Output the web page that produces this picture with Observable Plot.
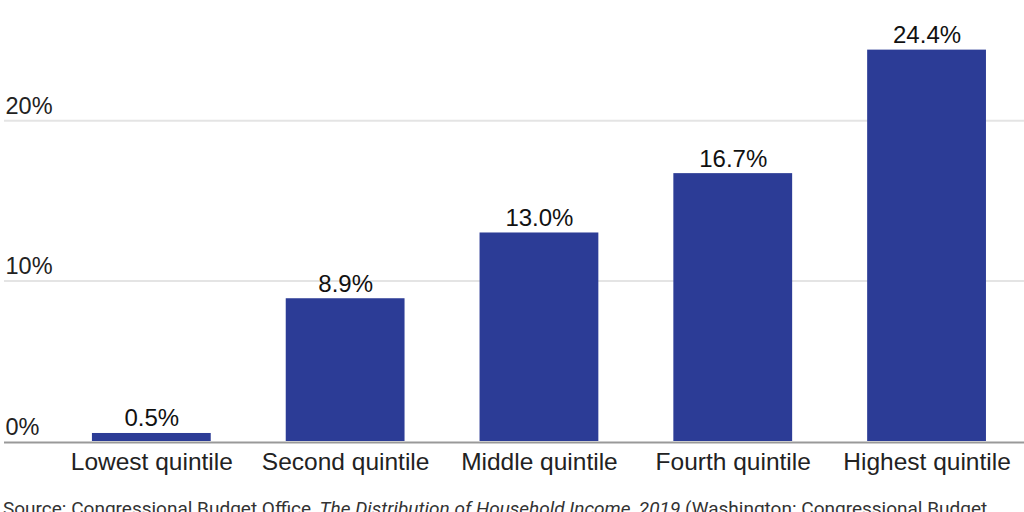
<!DOCTYPE html>
<html>
<head>
<meta charset="utf-8">
<script src="https://cdn.jsdelivr.net/npm/d3@7"></script>
<script src="https://cdn.jsdelivr.net/npm/@observablehq/plot@0.6"></script>
<style>
  html, body { margin: 0; padding: 0; background: #fff; overflow: hidden; }
  #chart svg { display: block; }
  #caption { font-family: Roboto, "Liberation Sans", sans-serif; font-size: 19px; color: #333; width: 1015px; margin: 8px 0 0 3px; line-height: 22px; }
</style>
</head>
<body>
<div id="chart"></div>
<div id="caption">Source: Congressional Budget Office, <i>The Distribution of Household Income, 2019</i> (Washington: Congressional Budget Office, 2022).</div>
<script>
const categories = ["Lowest quintile", "Second quintile", "Middle quintile", "Fourth quintile", "Highest quintile"];
const values = [0.5, 8.9, 13.0, 16.7, 24.4];
const valueLabels = ["0.5%", "8.9%", "13.0%", "16.7%", "24.4%"];
const yTicks = [0, 10, 20];
const yTickLabels = ["0%", "10%", "20%"];

const data = categories.map((c, i) => ({category: c, value: values[i], label: valueLabels[i]}));
const ticks = yTicks.map((t, i) => ({t, label: yTickLabels[i]}));

const chart = Plot.plot({
  width: 1024,
  height: 490,
  marginLeft: 4,
  marginRight: 0,
  marginTop: 40,
  marginBottom: 49,
  style: {fontFamily: "'Liberation Sans', Arial, sans-serif", color: "#222", background: "#fff"},
  x: {domain: categories, paddingInner: 0.387, paddingOuter: 0.325, align: 0.698, round: false, label: null},
  y: {domain: [0, 25], axis: null},
  marks: [
    Plot.ruleY(yTicks.filter(t => t > 0), {stroke: "#e4e4e4", strokeWidth: 2}),
    Plot.barY(data, {x: "category", y: "value", fill: "#2c3c96"}),
    Plot.ruleY([0], {stroke: "#999", strokeWidth: 2, dy: 1}),
    Plot.text(ticks, {y: "t", text: "label", frameAnchor: "left", textAnchor: "start", lineAnchor: "bottom", dx: 1, dy: -7, fontSize: 23.5, fill: "#222"}),
    Plot.text(data, {x: "category", y: "value", text: "label", lineAnchor: "bottom", dy: -7, fontSize: 24, fill: "#111"}),
    Plot.axisX({tickSize: 0, tickPadding: 11, fontSize: 24.5, fill: "#222", label: null})
  ]
});
document.getElementById("chart").appendChild(chart);
</script>
</body>
</html>
